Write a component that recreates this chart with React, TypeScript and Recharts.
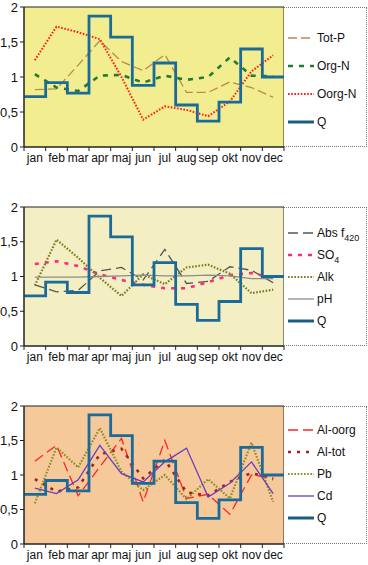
import React from "react";
import { LineChart, Line, XAxis, YAxis, ReferenceArea } from "recharts";

const MONTHS = ["jan", "feb", "mar", "apr", "maj", "jun", "jul", "aug", "sep", "okt", "nov", "dec"];
const Y_TICKS = [0, 0.5, 1, 1.5, 2];
const MINOR_TICKS = [0.1, 0.2, 0.3, 0.4, 0.6, 0.7, 0.8, 0.9, 1.1, 1.2, 1.3, 1.4, 1.6, 1.7, 1.8, 1.9];
const X_TICKS = [0, 1, 2, 3, 4, 5, 6, 7, 8, 9, 10, 11, 12];

// flow, same in every panel
const Q = [0.72, 0.92, 0.77, 1.87, 1.57, 0.88, 1.2, 0.6, 0.37, 0.64, 1.4, 1.0];

// panel 1
const TOT_P = [0.82, 0.83, 1.17, 1.52, 1.22, 1.09, 1.32, 0.78, 0.78, 0.93, 0.85, 0.71];
const ORG_N = [1.04, 0.85, 0.8, 1.02, 1.03, 0.92, 1.02, 0.96, 1.0, 1.28, 1.02, 1.01];
const OORG_N = [1.24, 1.72, 1.64, 1.54, 1.0, 0.39, 0.58, 0.53, 0.44, 0.65, 1.08, 1.31];

// panel 2
const ABS_F420 = [0.88, 0.78, 0.8, 1.08, 1.13, 0.95, 1.39, 0.9, 0.93, 1.14, 1.09, 0.91];
const SO4 = [1.18, 1.22, 1.15, 1.03, 0.95, 0.88, 0.83, 0.83, 0.92, 1.02, 1.05, 0.98];
const ALK = [0.87, 1.53, 1.27, 0.98, 0.72, 1.03, 0.89, 1.13, 1.17, 1.04, 0.76, 0.81];
const PH = [0.99, 0.99, 0.99, 1.0, 1.01, 1.02, 1.01, 1.01, 1.02, 1.01, 0.97, 0.97];

// panel 3
const AL_OORG = [1.2, 1.43, 0.7, 1.12, 1.53, 0.61, 1.5, 0.66, 0.72, 0.43, 1.0, 0.96];
const AL_TOT = [0.94, 0.76, 0.82, 1.3, 1.38, 0.95, 1.22, 0.75, 0.7, 0.9, 1.03, 0.94];
const PB = [0.59, 1.4, 1.11, 1.68, 1.05, 0.78, 1.0, 0.65, 0.94, 0.66, 1.47, 0.61];
const CD = [0.81, 0.73, 0.93, 1.43, 1.02, 0.9, 1.19, 1.39, 0.68, 0.88, 1.19, 0.73];

const FONT = "'Liberation Sans', Arial, Helvetica, sans-serif";
const PLOT_LEFT = 24;
const PLOT_W = 260;
const BAND = PLOT_W / 12;

type Series = {
  key: string;
  label: React.ReactNode;
  values: number[];
  color: string;
  width: number;
  dash?: string;
};

const Q_STYLE = { color: "#1b6b9a", legend: "#1a5e80", width: 2.8 };

const qSteps = [...Q.map((v, i) => ({ x: i, q: v })), { x: 12, q: Q[Q.length - 1] }];

const panels: {
  top: number;
  plotTop: number;
  plotH: number;
  bg: string;
  legendStart: number;
  legendStep: number;
  series: Series[];
}[] = [
  {
    top: 0,
    plotTop: 7,
    plotH: 140,
    bg: "#f2ed8e",
    legendStart: 30,
    legendStep: 28,
    series: [
      { key: "totP", label: "Tot-P", values: TOT_P, color: "#b98a4e", width: 1.3, dash: "9 4" },
      { key: "orgN", label: "Org-N", values: ORG_N, color: "#237a36", width: 2.6, dash: "5 6" },
      { key: "oorgN", label: "Oorg-N", values: OORG_N, color: "#ff1c1c", width: 2, dash: "1.6 1.6" },
    ],
  },
  {
    top: 190,
    plotTop: 17,
    plotH: 139,
    bg: "#f3efc3",
    legendStart: 25,
    legendStep: 22,
    series: [
      {
        key: "abs",
        label: (
          <>
            Abs f<tspan fontSize={9} dy={4}>420</tspan>
          </>
        ),
        values: ABS_F420,
        color: "#555555",
        width: 1.3,
        dash: "10 5",
      },
      {
        key: "so4",
        label: (
          <>
            SO<tspan fontSize={9} dy={4}>4</tspan>
          </>
        ),
        values: SO4,
        color: "#ff2a7e",
        width: 2.6,
        dash: "4 6",
      },
      { key: "alk", label: "Alk", values: ALK, color: "#7d7b22", width: 2.2, dash: "1.6 1.6" },
      { key: "ph", label: "pH", values: PH, color: "#8c8c8c", width: 1.3 },
    ],
  },
  {
    top: 390,
    plotTop: 16,
    plotH: 138,
    bg: "#f6c99a",
    legendStart: 23,
    legendStep: 22,
    series: [
      { key: "alOorg", label: "Al-oorg", values: AL_OORG, color: "#ff2424", width: 1.3, dash: "10 5" },
      { key: "alTot", label: "Al-tot", values: AL_TOT, color: "#a8201c", width: 2.6, dash: "3 6" },
      { key: "pb", label: "Pb", values: PB, color: "#8a8d2a", width: 2.2, dash: "1.6 1.6" },
      { key: "cd", label: "Cd", values: CD, color: "#6a3cc0", width: 1.3 },
    ],
  },
];

const MonthTick = (props: any) => {
  const { x, y, payload } = props;
  const i = payload.value;
  if (i >= 12) return <g />;
  return (
    <text x={x + BAND / 2} y={y} dy="0.71em" textAnchor="middle" fontSize={12} fill="#111" fontFamily={FONT}>
      {MONTHS[i]}
    </text>
  );
};

function Legend({ series, start, step, height }: { series: Series[]; start: number; step: number; height: number }) {
  const items = [
    ...series.map((s) => ({ key: s.key, label: s.label, color: s.color, width: s.width, dash: s.dash })),
    { key: "q", label: "Q" as React.ReactNode, color: Q_STYLE.legend, width: 3, dash: undefined as string | undefined },
  ];
  return (
    <svg width={83} height={height} style={{ display: "block" }}>
      {items.map((it, i) => {
        const y = start + i * step;
        return (
          <g key={it.key}>
            <line x1={4} x2={30} y1={y} y2={y} stroke={it.color} strokeWidth={it.width} strokeDasharray={it.dash} />
            <text x={33} y={y} dy="0.35em" fontSize={12} fill="#111" fontFamily={FONT}>
              {it.label}
            </text>
          </g>
        );
      })}
    </svg>
  );
}

function Panel({ p }: { p: (typeof panels)[number] }) {
  const rows = MONTHS.map((m, i) => {
    const row: Record<string, number | string> = { x: i + 0.5, month: m };
    p.series.forEach((s) => {
      row[s.key] = s.values[i];
    });
    return row;
  });
  const height = p.plotTop + p.plotH + 28;
  return (
    <div style={{ position: "absolute", left: 0, top: p.top, width: 368, height }}>
      <LineChart
        width={368}
        height={height}
        data={rows}
        margin={{ top: p.plotTop, right: 368 - PLOT_LEFT - PLOT_W, bottom: 4, left: 0 }}
      >
        <XAxis
          dataKey="x"
          type="number"
          domain={[0, 12]}
          ticks={X_TICKS}
          interval={0}
          height={24}
          tickSize={4}
          tickMargin={2}
          tick={<MonthTick />}
          stroke="#222"
          allowDataOverflow
        />
        <YAxis
          yAxisId="minor"
          type="number"
          domain={[0, 2]}
          ticks={MINOR_TICKS}
          width={0}
          tickSize={2}
          tick={() => <g />}
          axisLine={false}
          stroke="#777"
          allowDataOverflow
        />
        <YAxis
          yAxisId="main"
          type="number"
          domain={[0, 2]}
          ticks={Y_TICKS}
          interval={0}
          width={PLOT_LEFT}
          tickSize={4}
          tickMargin={2}
          tickFormatter={(v: number) => String(v).replace(".", ",")}
          tick={{ fontSize: 13, fill: "#111", fontFamily: FONT }}
          stroke="#222"
          allowDataOverflow
        />
        <ReferenceArea yAxisId="main" x1={0} x2={12} y1={0} y2={2} fill={p.bg} fillOpacity={1} stroke="#222" strokeWidth={1} />
        {p.series.map((s) => (
          <Line
            key={s.key}
            yAxisId="main"
            dataKey={s.key}
            type="linear"
            stroke={s.color}
            strokeWidth={s.width}
            strokeDasharray={s.dash}
            dot={false}
            activeDot={false}
            isAnimationActive={false}
          />
        ))}
        <Line
          yAxisId="main"
          data={qSteps}
          dataKey="q"
          type="stepAfter"
          stroke={Q_STYLE.color}
          strokeWidth={Q_STYLE.width}
          dot={false}
          activeDot={false}
          isAnimationActive={false}
        />
      </LineChart>
      <div
        style={{
          position: "absolute",
          left: PLOT_LEFT + PLOT_W,
          top: p.plotTop,
          width: 83,
          height: p.plotH,
          borderTop: "1px dotted #777",
          borderRight: "1px dotted #777",
          borderBottom: "1px dotted #777",
          boxSizing: "border-box",
          background: "#fff",
        }}
      >
        <Legend series={p.series} start={p.legendStart} step={p.legendStep} height={p.plotH - 2} />
      </div>
    </div>
  );
}

export default function App() {
  return (
    <div
      style={{
        position: "absolute",
        left: 0,
        top: 0,
        width: 368,
        height: 565,
        overflow: "hidden",
        background: "#fff",
        fontFamily: FONT,
      }}
    >
      {panels.map((p, i) => (
        <Panel key={i} p={p} />
      ))}
    </div>
  );
}
